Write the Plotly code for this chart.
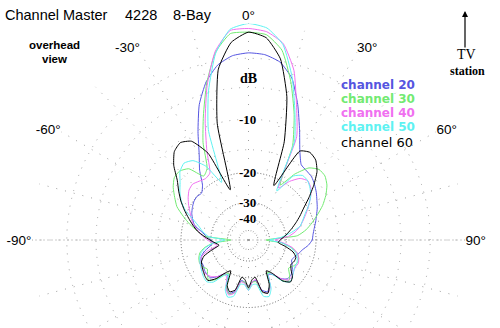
import plotly.graph_objects as go

# ---------------- data (dB) ----------------
angles = [-180, -175, -170, -165, -160, -155, -150, -145, -140, -135, -130, -125,
          -120, -115, -110, -105, -100, -95, -90, -85, -80, -75, -70, -65,
          -60, -55, -50, -45, -40, -35, -30, -25, -20, -15, -10, -5,
          0, 5, 10, 15, 20, 25, 30, 35, 40, 45, 50, 55,
          60, 65, 70, 75, 80, 85, 90, 95, 100, 105, 110, 115,
          120, 125, 130, 135, 140, 145, 150, 155, 160, 165, 170, 175, 180]

ch20 = [-26, -28, -28.5, -24, -23, -24.5, -28.5, -28.5, -26, -24, -23.8, -24,
        -24.5, -24.5, -25, -26.5, -29, -31, -30, -28, -26, -23.3, -22.2, -21.3,
        -20.7, -20.2, -20, -20.3, -19, -16, -13.5, -10.2, -7, -4.8, -3.4, -2.7,
        -2.5, -2.6, -3.1, -4.4, -7.0, -10, -12.8, -14.7, -15, -15.2, -15.8, -16.5,
        -17.3, -18, -18.8, -19.5, -20.2, -20.7, -21, -22, -23.5, -24.5, -25.5, -26,
        -25, -24, -23.5, -23.5, -25, -28, -29, -25, -23.5, -24.5, -28.5, -28, -26]

ch30 = [-25.5, -28, -28, -23.5, -22.8, -24.5, -29.5, -28, -24.5, -23, -24, -25,
        -24, -23.8, -24.2, -25, -27, -31, -43, -27, -24.5, -21.8, -19.5, -17.3,
        -16, -14.7, -13.8, -13.7, -14.5, -17.5, -16.5, -12, -8.5, -5.0, -2.2, -0.75,
        -0.7, -0.85, -2.0, -4.8, -8.3, -12.5, -21, -17, -14.3, -13.3, -13.3, -14,
        -15.2, -16.7, -18.6, -20.5, -22.5, -25.5, -43, -32, -27.5, -25, -24, -23.8,
        -24.5, -25.5, -24, -22.8, -24, -28.5, -30, -25, -23, -23.8, -28, -28, -25.5]

ch40 = [-25, -27.5, -28, -23.5, -22.5, -24, -27.5, -28.5, -26, -24.5, -23.8, -23.5,
        -23.7, -24, -25, -28, -33, -31, -28.5, -26.5, -24.8, -23, -21.8, -20.8,
        -19.6, -18.5, -17.6, -17.3, -17.8, -18.2, -17.7, -13.5, -9.2, -5.2, -2.1, -0.5,
        -0.4, -0.6, -1.4, -3.6, -7.4, -11, -22, -19, -17, -16.3, -16.8, -18,
        -19.5, -21, -22.5, -24, -26, -29, -36, -31, -27, -25, -24, -23.5,
        -23.8, -23.5, -23, -23, -25, -28.5, -29, -24.5, -23, -24, -29, -28, -25]

ch50 = [-25, -27, -27, -22.5, -21.8, -23.5, -29, -27.5, -23.5, -22.3, -22.5, -23,
        -23.5, -24, -24.5, -25.5, -27.5, -31, -38, -29, -26.5, -24.8, -22.5, -19.5,
        -17.6, -16.3, -15.2, -13.8, -13.2, -13.8, -16, -21, -10.5, -5.8, -2.3, -0.4,
        0, -0.3, -1.5, -4.3, -8, -11.8, -23, -17.5, -16.2, -16.3, -17, -18,
        -19.5, -21.3, -22.7, -24, -27.5, -32, -40, -32, -28, -25.5, -24.5, -24,
        -24, -23.5, -22.8, -22.3, -23.8, -28, -29.5, -24, -22, -22.5, -27, -27, -25]

ch60 = [-26, -29, -30, -24.5, -23.5, -25, -31, -29, -25, -22.8, -23, -23.5,
        -24, -24.5, -26, -30, -34, -32, -29.6, -27, -24.5, -22.7, -21, -19.2,
        -17.5, -16, -14.5, -12.3, -10.8, -10.3, -11, -14, -24, -10, -3.8, -1.5,
        -0.7, -1.1, -2.8, -6.5, -12.5, -22, -12.8, -12.1, -12.5, -13.8, -16, -18.5,
        -21, -23, -25, -27, -29, -31, -33, -34, -30, -26.5, -25, -25,
        -25.5, -24.5, -22.8, -22.2, -24, -29, -31, -25.5, -23, -24, -30, -29, -26]

series_names = ["channel 20", "channel 30", "channel 40", "channel 50", "channel 60"]
series_values = [ch20, ch30, ch40, ch50, ch60]
series_colors = ["#5555e0", "#72ea72", "#f070f0", "#5ef2f2", "#000000"]

grid_db_light = [0, -3, -6, -10, -15]
grid_db_dark = [-20, -30, -40]
label_db = [-10, -20, -30, -40]

angle_ticks = [0, 30, 60, 90, 270, 300, 330]
angle_labels = ["0°", "30°", "60°", "90°", "-90°", "-60°", "-30°"]


def radius(db):
    # ARRL log-periodic scale: radius shrinks by 0.89 every 2 dB
    return 0.89 ** (-db / 2.0)


# ---------------- geometry (pixels) ----------------
W, H = 500, 470
CX, CY, R = 248.5, 240.0, 216.5

dom_x = [(CX - R) / W, (CX + R) / W]
dom_y = [(H - (CY + R)) / H, (H - (CY - R)) / H]


def px(x):
    return x / W


def py(y):
    return (H - y) / H


fig = go.Figure()

# base polar needs a (hidden) trace so that its grid is drawn
fig.add_trace(go.Scatterpolar(r=[0], theta=[0], mode="markers",
                              marker=dict(size=1, opacity=0), subplot="polar",
                              hoverinfo="skip", showlegend=False))

for name, vals, col in zip(series_names, series_values, series_colors):
    fig.add_trace(go.Scatterpolar(
        r=[radius(v) for v in vals], theta=angles, mode="lines",
        line=dict(color=col, width=1, shape="spline", smoothing=0.5),
        name=name, subplot="polar2", hoverinfo="skip"))

all_ticks = list(range(0, 360, 15))
tick_text = [angle_labels[angle_ticks.index(t)] if t in angle_ticks else "" for t in all_ticks]

fig.update_layout(
    width=W, height=H, margin=dict(l=0, r=0, t=0, b=0),
    paper_bgcolor="white", showlegend=False,
    polar=dict(
        domain=dict(x=dom_x, y=dom_y), bgcolor="white",
        angularaxis=dict(rotation=90, direction="clockwise", tickmode="array",
                         tickvals=all_ticks, ticktext=tick_text, ticks="",
                         showline=False, gridcolor="#a0a0a0", griddash="1px,8px",
                         gridwidth=1,
                         tickfont=dict(family="Liberation Sans", size=13.5, color="black")),
        radialaxis=dict(range=[0, 1], tickmode="array",
                        tickvals=[radius(d) * 0.9995 for d in grid_db_light],
                        showticklabels=False, ticks="", showline=False,
                        gridcolor="#a0a0a0", griddash="1px,7px", gridwidth=1),
    ),
    polar2=dict(
        domain=dict(x=dom_x, y=dom_y), bgcolor="rgba(0,0,0,0)",
        angularaxis=dict(rotation=90, direction="clockwise", tickmode="array",
                         tickvals=[90, 270], showticklabels=False, ticks="",
                         showline=False, gridcolor="#999999", griddash="1px,3px"),
        radialaxis=dict(range=[0, 1], tickmode="array",
                        tickvals=[radius(d) for d in grid_db_dark],
                        showticklabels=False, ticks="", showline=False,
                        gridcolor="#666666", griddash="1px,2px"),
    ),
)

ann = []
# title
for txt, x in [("Channel Master", 3), ("4228", 123), ("8-Bay", 171)]:
    ann.append(dict(text=txt, x=px(x), y=py(15), xref="paper", yref="paper",
                    xanchor="left", yanchor="middle", showarrow=False,
                    font=dict(family="Liberation Sans", size=14.5, color="black")))
ann.append(dict(text="<b>overhead</b>", x=px(54.5), y=py(45), xref="paper", yref="paper",
                xanchor="center", yanchor="middle", showarrow=False,
                font=dict(family="Liberation Sans", size=11.5, color="black")))
ann.append(dict(text="<b>view</b>", x=px(54.5), y=py(59), xref="paper", yref="paper",
                xanchor="center", yanchor="middle", showarrow=False,
                font=dict(family="Liberation Sans", size=11.5, color="black")))
# TV station
ann.append(dict(text="", x=px(465), y=py(11), xref="paper", yref="paper",
                ax=0, ay=38, showarrow=True, arrowhead=2, arrowsize=1,
                arrowwidth=1.2, arrowcolor="black"))
ann.append(dict(text="TV", x=px(466), y=py(54.5), xref="paper", yref="paper",
                xanchor="center", yanchor="middle", showarrow=False,
                font=dict(family="Liberation Serif", size=14, color="black")))
ann.append(dict(text="<b>station</b>", x=px(467), y=py(70.5), xref="paper", yref="paper",
                xanchor="center", yanchor="middle", showarrow=False,
                font=dict(family="Liberation Serif", size=12, color="black")))
# legend text
for i, (name, col) in enumerate(zip(series_names, series_colors)):
    if col == "#000000":
        txt, size = name, 13
    else:
        txt, size = "<b>%s</b>" % name, 12
    ann.append(dict(text=txt, x=px(339), y=py(85 + 14 * i + (1 if col == "#000000" else 0)),
                    xref="paper", yref="paper",
                    xanchor="left", yanchor="middle", showarrow=False,
                    font=dict(family="DejaVu Sans", size=size, color=col)))
# dB labels
ann.append(dict(text="<b>dB</b>", x=px(CX), y=py(78), xref="paper", yref="paper",
                xanchor="center", yanchor="middle", showarrow=False,
                font=dict(family="Liberation Serif", size=14, color="black")))
for d in label_db:
    ann.append(dict(text="<b>%d</b>" % d, x=px(CX - 1), y=py(CY - R * radius(d)),
                    xref="paper", yref="paper", xanchor="center", yanchor="middle",
                    showarrow=False, bgcolor="white", borderpad=0,
                    font=dict(family="Liberation Serif", size=13, color="black")))
fig.update_layout(annotations=ann)

fig.write_html("out.html", post_script=(
    "document.documentElement.style.overflow='hidden';"
    "document.body.style.overflow='hidden';"
    "document.body.style.margin='0';"
    "document.documentElement.style.height='328px';"
    "document.body.style.height='328px';"))
